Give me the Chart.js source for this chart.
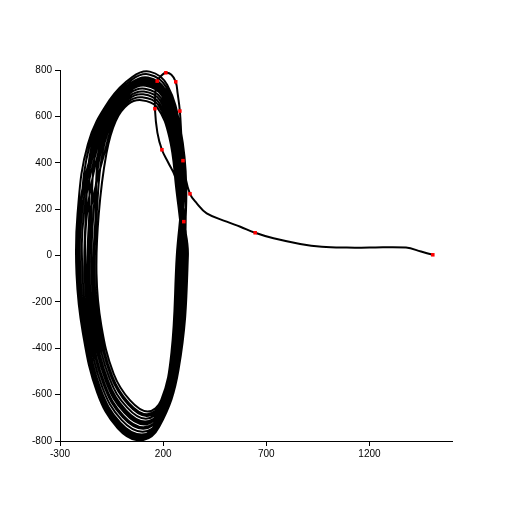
<!DOCTYPE html>
<html>
<head>
<meta charset="utf-8">
<script src="https://cdn.jsdelivr.net/npm/chart.js@4.4.1/dist/chart.umd.min.js"></script>
<style>
  html, body { margin: 0; padding: 0; background: #fff; }
  #wrap { width: 512px; height: 512px; }
</style>
</head>
<body>
<div id="wrap"><canvas id="chart" width="512" height="512"></canvas></div>
<script>
// transient: starts at the far right and runs into the cycle
const transient = [
  [1507, 3], [1450, 17], [1377, 34], [1200, 34], [1090, 34], [969, 38], [864, 50],
  [735, 74], [646, 98], [574, 124], [508, 146], [411, 182], [363, 225], [330, 266],
  [305, 350], [296, 409], [288, 520], [281, 623], [270, 700], [261, 749], [240, 780],
  [213, 788], [190, 775], [171, 752], [162, 700], [160, 633], [172, 530], [194, 456],
  [225, 400], [258, 340], [285, 230], [300, 146]
];

// loops of the cycle, clockwise
const loop1 = [[320, 0], [275, -490], [180, -740], [90, -797], [-20, -745], [-120, -590], [-190, -330], [-220, -80], [-215, 180], [-165, 480], [-60, 670], [50, 770], [135, 793], [220, 735], [285, 540], [312, 300]];
const loop2 = [[298, 0], [265, -469], [183, -706], [101, -760], [-2, -709], [-96, -566], [-163, -321], [-191, -80], [-184, 180], [-120, 460], [-45, 625], [40, 711], [115, 732], [195, 688], [258, 525], [287, 300]];
const loop3 = [[304, 0], [261, -462], [184, -694], [104, -747], [4, -697], [-88, -558], [-154, -318], [-181, -80], [-174, 180], [-147, 472], [-54, 652], [46, 746], [127, 768], [210, 716], [274, 534], [302, 300]];
const loop4 = [[274, 0], [244, -427], [189, -637], [122, -685], [34, -637], [-48, -518], [-109, -303], [-133, -80], [-122, 180], [-93, 448], [-36, 598], [34, 676], [103, 695], [180, 659], [241, 516], [272, 300]];
const loop5 = [[308, 0], [272, -483], [181, -729], [94, -785], [-14, -733], [-112, -582], [-181, -327], [-210, -80], [-205, 180], [-134, 466], [-50, 639], [43, 729], [121, 750], [203, 702], [266, 530], [295, 300]];
const loop6 = [[266, 0], [240, -420], [190, -625], [125, -673], [40, -625], [-40, -510], [-100, -300], [-123, -80], [-112, 180], [-75, 440], [-30, 580], [30, 652], [95, 670], [170, 640], [230, 510], [262, 300]];
const loop7 = [[292, 0], [259, -459], [185, -688], [106, -741], [7, -691], [-84, -554], [-150, -317], [-176, -80], [-169, 180], [-111, 456], [-42, 616], [38, 699], [111, 719], [190, 678], [252, 522], [282, 300]];
const loop8 = [[281, 0], [249, -438], [188, -654], [116, -704], [25, -655], [-60, -530], [-123, -308], [-147, -80], [-138, 180], [-102, 452], [-39, 607], [36, 687], [107, 707], [185, 669], [247, 519], [277, 300]];
const loop9 = [[280, 0], [254, -448], [186, -671], [111, -723], [16, -673], [-72, -542], [-136, -312], [-162, -80], [-153, 180], [-84, 444], [-33, 589], [32, 664], [99, 682], [175, 650], [236, 513], [267, 300]];
const loop10 = [[304, 0], [268, -476], [182, -717], [97, -772], [-8, -721], [-104, -574], [-172, -324], [-201, -80], [-194, 180], [-129, 464], [-48, 634], [42, 723], [119, 744], [200, 697], [263, 528], [292, 300]];
const loop11 = [[298, 0], [256, -452], [186, -677], [109, -729], [13, -679], [-76, -546], [-141, -314], [-167, -80], [-158, 180], [-143, 470], [-53, 648], [45, 741], [125, 762], [208, 711], [271, 533], [300, 300]];
const loop12 = [[281, 0], [245, -431], [189, -642], [120, -692], [31, -643], [-52, -522], [-114, -305], [-138, -80], [-127, 180], [-111, 456], [-42, 616], [38, 699], [111, 719], [190, 678], [252, 522], [282, 300]];
const loop13 = [[313, 0], [270, -480], [182, -723], [95, -778], [-11, -727], [-108, -578], [-177, -326], [-205, -80], [-200, 180], [-156, 476], [-57, 661], [48, 758], [131, 781], [215, 726], [280, 537], [307, 300]];
const loop14 = [[290, 0], [252, -445], [187, -665], [113, -716], [19, -667], [-68, -538], [-132, -311], [-157, -80], [-148, 180], [-125, 462], [-47, 630], [41, 717], [117, 738], [198, 692], [260, 527], [290, 300]];
const loop15 = [[311, 0], [273, -487], [181, -734], [92, -791], [-17, -739], [-116, -586], [-186, -329], [-215, -80], [-210, 180], [-138, 468], [-51, 643], [44, 735], [123, 756], [205, 707], [269, 531], [297, 300]];

// sampled points shown in red
const redMarks = [
  [1507, 3], [646, 98], [330, 266], [296, 409], [281, 623], [261, 749],
  [213, 788], [171, 752], [160, 633], [194, 456], [300, 146]
];

const xTicks = [-300, 200, 700, 1200];
const yTicks = [-800, -600, -400, -200, 0, 200, 400, 600, 800];

const path = transient.concat(loop1, loop2, loop13, loop3, loop4, loop5, loop14, loop6,
  loop7, loop15, loop8, loop9, loop10, loop11, loop12);

function toXY(arr) {
  return arr.map(function (p) { return { x: p[0], y: p[1] }; });
}

const tickFont = { family: "'Liberation Sans', Arial, sans-serif", size: 10 };

new Chart(document.getElementById('chart'), {
  type: 'scatter',
  data: {
    datasets: [
      {
        data: toXY(redMarks),
        pointStyle: 'rect',
        pointRadius: 2.5,
        backgroundColor: '#ff0000',
        borderWidth: 0,
        showLine: false
      },
      {
        data: toXY(path),
        showLine: true,
        borderColor: '#000',
        borderWidth: 2,
        pointRadius: 0,
        tension: 0.4,
        fill: false
      }
    ]
  },
  options: {
    responsive: false,
    animation: false,
    layout: { padding: { top: 70, right: 60, left: 0, bottom: 0 } },
    plugins: { legend: { display: false }, tooltip: { enabled: false } },
    scales: {
      x: {
        type: 'linear',
        min: -300,
        max: 1600,
        afterBuildTicks: function (scale) {
          scale.ticks = xTicks.map(function (v) { return { value: v }; });
        },
        afterFit: function (scale) { scale.height = 71; },
        border: { color: '#000', width: 1 },
        grid: { display: true, drawOnChartArea: false, drawTicks: true, tickLength: 5, color: '#000' },
        ticks: { color: '#000', font: tickFont, padding: 2, maxRotation: 0,
          callback: function (v) { return String(v); } }
      },
      y: {
        type: 'linear',
        min: -800,
        max: 800,
        afterBuildTicks: function (scale) {
          scale.ticks = yTicks.map(function (v) { return { value: v }; });
        },
        afterFit: function (scale) { scale.width = 60; },
        border: { color: '#000', width: 1 },
        grid: { display: true, drawOnChartArea: false, drawTicks: true, tickLength: 5, color: '#000' },
        ticks: { color: '#000', font: tickFont, padding: 3,
          callback: function (v) { return String(v); } }
      }
    }
  }
});
</script>
</body>
</html>
